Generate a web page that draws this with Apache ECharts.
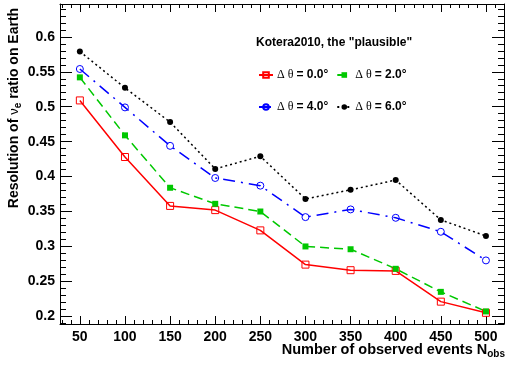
<!DOCTYPE html>
<html>
<head>
<meta charset="utf-8">
<script src="https://cdn.jsdelivr.net/npm/echarts@6/dist/echarts.min.js"></script>
<style>
html, body { margin: 0; padding: 0; background: #fff; }
#chart { width: 507px; height: 365px; }
</style>
</head>
<body>
<div id="chart"></div>
<script>
// Number of observed events
const nObs = [50, 100, 150, 200, 250, 300, 350, 400, 450, 500];

// Resolution of the nu_e ratio for each angular uncertainty
const resDeg0 = [0.509, 0.428, 0.358, 0.352, 0.323, 0.274, 0.266, 0.265, 0.221, 0.205];
const resDeg2 = [0.542, 0.459, 0.384, 0.361, 0.350, 0.300, 0.296, 0.268, 0.235, 0.207];
const resDeg4 = [0.554, 0.499, 0.444, 0.398, 0.387, 0.342, 0.353, 0.341, 0.321, 0.280];
const resDeg6 = [0.579, 0.527, 0.478, 0.411, 0.429, 0.368, 0.381, 0.395, 0.338, 0.315];

const seriesNames = ['Δ θ = 0.0°', 'Δ θ = 2.0°', 'Δ θ = 4.0°', 'Δ θ = 6.0°'];

const SANS = '"Liberation Sans", Arial, Helvetica, sans-serif';
const SERIF = '"Liberation Serif", "Times New Roman", serif';

const pairs = vals => nObs.map((n, i) => [n, vals[i]]);

const xMin = 28, xMax = 520;
const yMin = 0.189, yMax = 0.647;

function xAxisCfg(pos, showLabels) {
  return {
    type: 'value', position: pos, min: xMin, max: xMax, splitNumber: 10,
    axisLine: { show: true, onZero: false, lineStyle: { color: '#000', width: 1 } },
    axisTick: { show: true, inside: true, length: 8, lineStyle: { color: '#000' } },
    minorTick: { show: true, splitNumber: 5, length: 4, lineStyle: { color: '#000' } },
    splitLine: { show: false },
    axisLabel: {
      show: showLabels, margin: 6, color: '#000', fontFamily: SANS, fontWeight: 'bold', fontSize: 14,
      formatter: v => (Math.abs(v % 50) < 1e-6 ? String(v) : '')
    }
  };
}

function yAxisCfg(pos, showLabels) {
  return {
    type: 'value', position: pos, min: yMin, max: yMax, splitNumber: 9,
    axisLine: { show: true, onZero: false, lineStyle: { color: '#000', width: 1 } },
    axisTick: { show: true, inside: true, length: 12, lineStyle: { color: '#000' } },
    minorTick: { show: true, splitNumber: 5, length: 6, lineStyle: { color: '#000' } },
    splitLine: { show: false },
    axisLabel: {
      show: showLabels, margin: 5, color: '#000', fontFamily: SANS, fontWeight: 'bold', fontSize: 14,
      formatter: v => {
        const k = v / 0.05;
        return Math.abs(k - Math.round(k)) < 1e-6 ? String(+v.toFixed(2)) : '';
      }
    }
  };
}

function lineSeries(name, vals, color, dash, symbol, hollow, size) {
  return {
    name: name, type: 'line', data: pairs(vals),
    xAxisIndex: 0, yAxisIndex: 0,
    symbol: symbol, symbolSize: size, showAllSymbol: true,
    lineStyle: { color: color, width: 1.5, type: dash },
    itemStyle: hollow
      ? { color: 'rgba(255,255,255,0)', borderColor: color, borderWidth: 1 }
      : { color: color, borderWidth: 0 },
    z: 3,
    animation: false
  };
}

const legendRich = {
  g: { fontFamily: SERIF, fontSize: 12, color: '#000' },
  b: { fontFamily: SANS, fontWeight: 'bold', fontSize: 12, color: '#000' }
};
const legendFormatter = name => '{g|Δ θ }{b|' + name.slice(4) + '}';

function legendRow(names, top) {
  return {
    data: names, left: 258, top: top, orient: 'horizontal',
    itemWidth: 14, itemHeight: 7, itemGap: 8,
    selectedMode: false, padding: 0,
    textStyle: { rich: legendRich, padding: [0, 0, 0, -1] },
    formatter: legendFormatter
  };
}

const chart = echarts.init(document.getElementById('chart'), null, { renderer: 'canvas' });

chart.setOption({
  animation: false,
  backgroundColor: '#fff',
  grid: { left: 60, right: 2, top: 4, bottom: 41, containLabel: false },
  title: {
    text: 'Kotera2010, the "plausible"', left: 256, top: 37, padding: 0,
    textStyle: { fontFamily: SANS, fontWeight: 'bold', fontSize: 12, color: '#000' }
  },
  legend: [
    legendRow([seriesNames[0], seriesNames[1]], 69),
    legendRow([seriesNames[2], seriesNames[3]], 101)
  ],
  xAxis: [xAxisCfg('bottom', true), xAxisCfg('top', false)],
  yAxis: [yAxisCfg('left', true), yAxisCfg('right', false)],
  series: [
    lineSeries(seriesNames[0], resDeg0, '#ff0000', 'solid', 'rect', true, 7),
    lineSeries(seriesNames[1], resDeg2, '#00c800', [9, 5], 'rect', false, 6),
    lineSeries(seriesNames[2], resDeg4, '#0000ff', [12, 6, 2, 6], 'circle', true, 7),
    lineSeries(seriesNames[3], resDeg6, '#000000', [2, 3], 'circle', false, 6)
  ],
  graphic: [
    {
      type: 'text', x: 14, y: 108, rotation: Math.PI / 2, silent: true,
      style: {
        text: '{a|Resolution of }{n|ν}{s|e}{a| ratio on Earth}',
        align: 'center', verticalAlign: 'middle',
        rich: {
          a: { fontFamily: SANS, fontWeight: 'bold', fontSize: 14, color: '#000' },
          n: { fontFamily: SANS, fontSize: 13, color: '#000' },
          s: { fontFamily: SANS, fontWeight: 'bold', fontSize: 10, color: '#000', padding: [8, 0, 0, 0] }
        }
      }
    },
    {
      type: 'text', x: 505, y: 350, silent: true,
      style: {
        text: '{a|Number of observed events N}{s|obs}',
        align: 'right', verticalAlign: 'middle',
        rich: {
          a: { fontFamily: SANS, fontWeight: 'bold', fontSize: 14.5, color: '#000' },
          s: { fontFamily: SANS, fontWeight: 'bold', fontSize: 10, color: '#000', padding: [9, 0, 0, 0] }
        }
      }
    }
  ]
});
</script>
</body>
</html>
